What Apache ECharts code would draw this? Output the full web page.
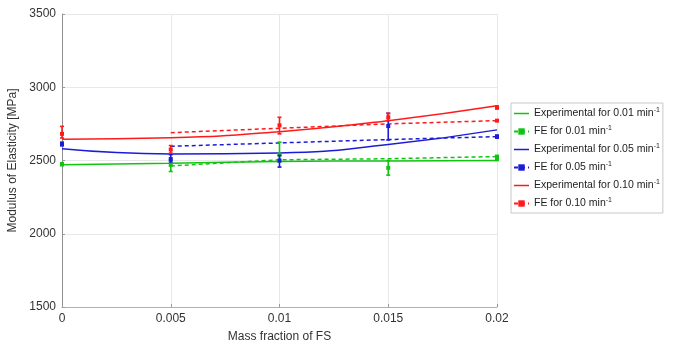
<!DOCTYPE html>
<html>
<head>
<meta charset="utf-8">
<script src="https://cdn.jsdelivr.net/npm/echarts@6/dist/echarts.min.js"></script>
<style>
html,body{margin:0;padding:0;background:#fff;}
#c{width:674px;height:344px;}
</style>
</head>
<body>
<div id="c"></div>
<script>
// ---- data ----
const xExp = [0, 0.005, 0.01, 0.015, 0.02];
const xFE = [0.005, 0.01, 0.015, 0.02];

// fitted experimental curves (read at the x positions)
const fit001 = [2471, 2482, 2493, 2497, 2500];
const fit005 = [2580, 2545, 2552, 2609, 2709];
const fit010 = [2645, 2655, 2697, 2772, 2874];

// FE results
const fe001 = [2463, 2505, 2512, 2527];
const fe005 = [2597, 2620, 2643, 2663];
const fe010 = [2690, 2720, 2750, 2772];

// experimental measurements (mean, low, high)
const exp001 = [2475, 2470, 2540, 2450, 2515];
const exp001Lo = [2465, 2425, 2490, 2400, 2500];
const exp001Hi = [2485, 2505, 2625, 2500, 2530];
const exp005 = [2613, 2510, 2500, 2735, 2663];
const exp005Lo = [2600, 2490, 2455, 2640, 2655];
const exp005Hi = [2625, 2540, 2535, 2822, 2672];
const exp010 = [2682, 2575, 2740, 2795, 2862];
const exp010Lo = [2654, 2550, 2682, 2772, 2852];
const exp010Hi = [2733, 2602, 2795, 2822, 2872];

const names = [
  'Experimental for 0.01 min', 'FE for 0.01 min',
  'Experimental for 0.05 min', 'FE for 0.05 min',
  'Experimental for 0.10 min', 'FE for 0.10 min'
];
const xTicks = ['0', '0.005', '0.01', '0.015', '0.02'];
const yTicks = ['1500', '2000', '2500', '3000', '3500'];

const GREEN = '#12c412', BLUE = '#1c1cd8', RED = '#ff1a1a';
const COLORS = [GREEN, GREEN, BLUE, BLUE, RED, RED];
const FONT = 'Liberation Sans, Arial, sans-serif';

function pairs(xs, ys) { return xs.map((x, i) => [x, ys[i]]); }
function feData(xs, ys) {
  return xs.map((x, i) => i === xs.length - 1 ? {value: [x, ys[i]]} : {value: [x, ys[i]], symbolSize: 0});
}
function errData(xs, m, lo, hi) { return xs.map((x, i) => [x, lo[i], hi[i], m[i]]); }

function errSeries(color, data) {
  return {
    type: 'custom', silent: true, z: 5,
    data: data,
    encode: {x: 0, y: [1, 2]},
    renderItem: function (params, api) {
      const x = api.value(0);
      const pl = api.coord([x, api.value(1)]);
      const ph = api.coord([x, api.value(2)]);
      const pm = api.coord([x, api.value(3)]);
      const w = 2;
      const st = {stroke: color, lineWidth: 1.6};
      return {type: 'group', children: [
        {type: 'line', shape: {x1: ph[0], y1: ph[1], x2: pl[0], y2: pl[1]}, style: st},
        {type: 'line', shape: {x1: ph[0] - w, y1: ph[1], x2: ph[0] + w, y2: ph[1]}, style: st},
        {type: 'line', shape: {x1: pl[0] - w, y1: pl[1], x2: pl[0] + w, y2: pl[1]}, style: st},
        {type: 'rect', shape: {x: pm[0] - 2, y: pm[1] - 2, width: 4, height: 4}, style: {fill: color}}
      ]};
    }
  };
}

function fitSeries(name, color, ys) {
  return {name: name, type: 'line', data: pairs(xExp, ys), smooth: 0.5, showSymbol: false, symbol: 'none',
    lineStyle: {color: color, width: 1.5}, itemStyle: {color: color}, z: 3};
}
function feSeries(name, color, ys) {
  return {name: name, type: 'line', data: feData(xFE, ys), symbol: 'rect', symbolSize: 4,
    lineStyle: {color: color, width: 1.5, type: [4, 3]}, itemStyle: {color: color}, z: 4};
}

const LINE_ICON = 'path://M0,0H30V3H0Z';
const legendData = names.map((n, i) => (i % 2 === 0)
  ? {name: n, icon: LINE_ICON, itemStyle: {color: COLORS[i], borderWidth: 0}}
  : {name: n});

const chart = echarts.init(document.getElementById('c'), null, {renderer: 'canvas'});
chart.setOption({
  animation: false,
  textStyle: {fontFamily: FONT},
  grid: {left: 62, right: 177, top: 14, bottom: 37, containLabel: false, outerBoundsMode: 'none'},
  xAxis: {
    type: 'value', min: 0, max: 0.02, interval: 0.005,
    name: 'Mass fraction of FS', nameLocation: 'middle', nameGap: 24,
    nameTextStyle: {color: '#333', fontSize: 12, fontFamily: FONT},
    axisLine: {show: true, lineStyle: {color: '#b0b0b0'}},
    axisTick: {show: true, inside: true, length: 3, lineStyle: {color: '#999'}},
    axisLabel: {color: '#333', fontSize: 12, margin: 6, fontFamily: FONT,
      formatter: function (v) { return xTicks[Math.round(v / 0.005)]; }},
    splitLine: {show: true, lineStyle: {color: '#e8e8e8'}}
  },
  yAxis: {
    type: 'value', min: 1500, max: 3500, interval: 500,
    name: 'Modulus of Elasticity [MPa]', nameLocation: 'middle', nameGap: 42, nameRotate: 90,
    nameTextStyle: {color: '#333', fontSize: 12, fontFamily: FONT},
    axisLine: {show: true, lineStyle: {color: '#909090'}},
    axisTick: {show: true, inside: true, length: 3, lineStyle: {color: '#999'}},
    axisLabel: {color: '#333', fontSize: 12, margin: 6, fontFamily: FONT,
      formatter: function (v) { return yTicks[Math.round((v - 1500) / 500)]; }},
    splitLine: {show: true, lineStyle: {color: '#e8e8e8'}}
  },
  legend: {
    data: legendData,
    orient: 'vertical', left: 511, top: 103,
    itemWidth: 15, itemHeight: 8, itemGap: 6,
    padding: [4, 3, 4, 2],
    borderColor: '#c8c8c8', borderWidth: 1, backgroundColor: '#fff',
    textStyle: {color: '#222', fontSize: 10.5, fontFamily: FONT,
      rich: {
        t: {fontSize: 10.5, color: '#222', fontFamily: FONT, height: 13},
        s: {fontSize: 7, color: '#222', fontFamily: FONT, verticalAlign: 'top', padding: [0, 0, 6, 0]}
      }},
    formatter: function (n) { return '{t|' + n + '}{s|-1}'; }
  },
  series: [
    fitSeries(names[0], GREEN, fit001),
    feSeries(names[1], GREEN, fe001),
    fitSeries(names[2], BLUE, fit005),
    feSeries(names[3], BLUE, fe005),
    fitSeries(names[4], RED, fit010),
    feSeries(names[5], RED, fe010),
    errSeries(GREEN, errData(xExp, exp001, exp001Lo, exp001Hi)),
    errSeries(BLUE, errData(xExp, exp005, exp005Lo, exp005Hi)),
    errSeries(RED, errData(xExp, exp010, exp010Lo, exp010Hi))
  ]
});
</script>
</body>
</html>
